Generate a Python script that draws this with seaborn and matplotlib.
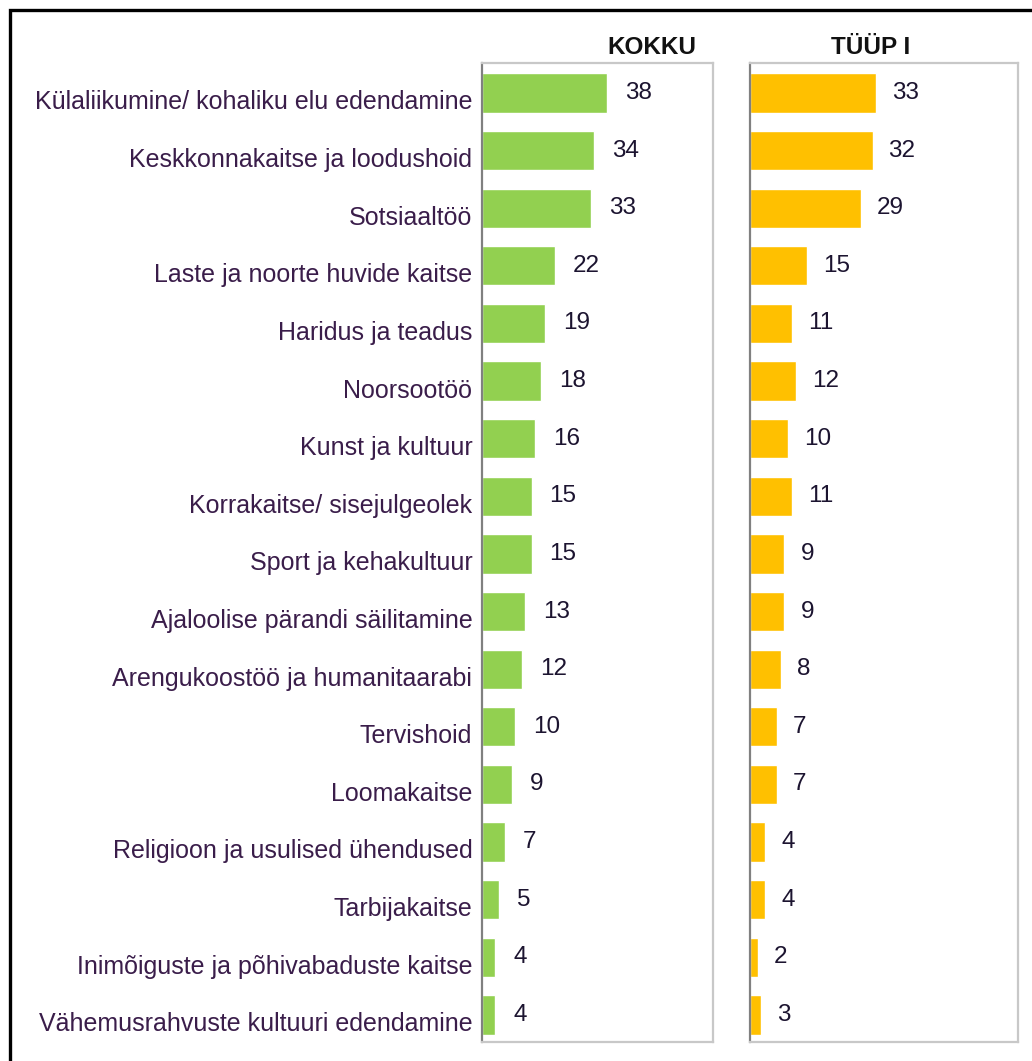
import pandas as pd
import matplotlib
matplotlib.use('Agg')
import matplotlib.pyplot as plt
import matplotlib.transforms as mtransforms
from matplotlib.patches import Rectangle
import seaborn as sns

valdkonnad = ['Külaliikumine/ kohaliku elu edendamine', 'Keskkonnakaitse ja loodushoid',
              'Sotsiaaltöö', 'Laste ja noorte huvide kaitse', 'Haridus ja teadus',
              'Noorsootöö', 'Kunst ja kultuur', 'Korrakaitse/ sisejulgeolek',
              'Sport ja kehakultuur', 'Ajaloolise pärandi säilitamine',
              'Arengukoostöö ja humanitaarabi', 'Tervishoid', 'Loomakaitse',
              'Religioon ja usulised ühendused', 'Tarbijakaitse',
              'Inimõiguste ja põhivabaduste kaitse', 'Vähemusrahvuste kultuuri edendamine']
kokku = [38, 34, 33, 22, 19, 18, 16, 15, 15, 13, 12, 10, 9, 7, 5, 4, 4]
tyyp1 = [33, 32, 29, 15, 11, 12, 10, 11, 9, 9, 8, 7, 7, 4, 4, 2, 3]
pealkirjad = ['KOKKU', 'TÜÜP I']
varvid = ['#92d050', '#ffc000']

df = pd.DataFrame({'valdkond': valdkonnad, 'KOKKU': kokku, 'TÜÜP I': tyyp1})

sns.set_theme(style='white')
plt.rcParams['font.family'] = ['Liberation Sans', 'DejaVu Sans']

W, H = 1032, 1061
fig = plt.figure(figsize=(W / 100, H / 100), dpi=100)
fig.patch.set_facecolor('white')

# teljed pikslites (vasak, parem)
kastid = [(482, 713), (750, 1018)]
top_px, bot_px = 63, 1042
pealkirja_x = [652, 871]
vahed = [13, 11.5]

for i, (veerg, varv) in enumerate(zip(pealkirjad, varvid)):
    x0, x1 = kastid[i]
    ax = fig.add_axes([x0 / W, (H - bot_px) / H, (x1 - x0) / W, (bot_px - top_px) / H])
    sns.barplot(data=df, y='valdkond', x=veerg, orient='h', color=varv,
                saturation=1, width=0.68, ax=ax)
    ax.bar_label(ax.containers[0], padding=vahed[i], fontsize=17.5, color='#1c1430')
    ax.set_xlim(0, 70)
    ax.set_ylim(16.47, -0.52)
    ax.set_xlabel('')
    ax.set_ylabel('')
    ax.set_xticks([])
    for s in ['top', 'right', 'bottom']:
        ax.spines[s].set_color('#c8c8c8')
        ax.spines[s].set_linewidth(1.6)
    ax.spines['left'].set_color('#808080')
    ax.spines['left'].set_linewidth(1.6)
    if i == 0:
        ax.tick_params(axis='y', length=0, pad=7, labelsize=18, labelcolor='#3a1d4a')
        nihe = mtransforms.ScaledTranslation(0, -5 / 72, fig.dpi_scale_trans)
        for lbl in ax.get_yticklabels():
            lbl.set_transform(lbl.get_transform() + nihe)
    else:
        ax.set_yticks([])
    fig.text(pealkirja_x[i] / W, 1 - 47 / H, veerg, ha='center', va='center',
             fontsize=17.5, fontweight='bold', color='#111111')

# välimine raam
fig.patches.append(Rectangle((10 / W, -0.1), 2, 1.1 - 10 / H, transform=fig.transFigure,
                             fill=False, edgecolor='black', linewidth=2.4, clip_on=False))

fig.savefig('out.png', dpi=100)
